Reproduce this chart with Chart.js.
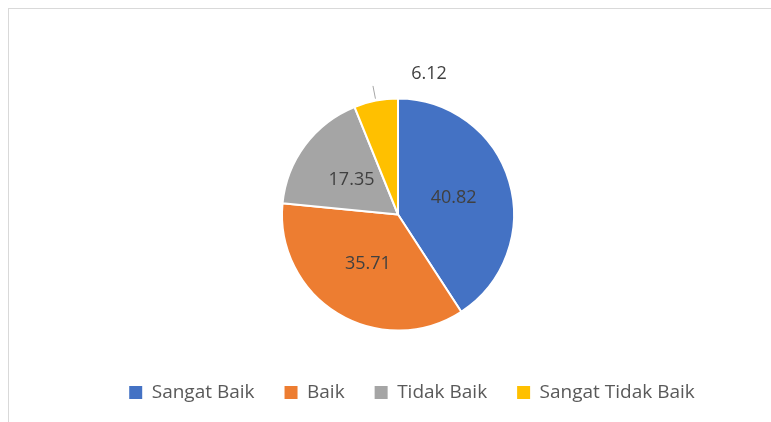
<!DOCTYPE html>
<html>
<head>
<meta charset="utf-8">
<script src="https://cdn.jsdelivr.net/npm/chart.js@4/dist/chart.umd.min.js"></script>
<style>
  html, body { margin: 0; padding: 0; background: #ffffff; }
  #wrap { position: relative; width: 771px; height: 422px; overflow: hidden; }
  #frame { position: absolute; left: 8px; top: 8px; width: 800px; height: 450px;
           border-top: 1px solid #d9d9d9; border-left: 1px solid #d9d9d9; }
  canvas { position: absolute; left: 0; top: 0; }
</style>
</head>
<body>
<div id="wrap">
  <div id="frame"></div>
  <canvas id="c" width="771" height="422"></canvas>
</div>
<script>
const categories = ["Sangat Baik", "Baik", "Tidak Baik", "Sangat Tidak Baik"];
const values = [40.82, 35.71, 17.35, 6.12];
const colors = ["#4472C4", "#ED7D31", "#A5A5A5", "#FFC000"];
const labelFont = "18px 'Open Sans'";

const labelPlugin = {
  id: 'sliceLabels',
  afterDatasetsDraw(chart) {
    const ctx = chart.ctx;
    const meta = chart.getDatasetMeta(0);
    ctx.save();
    ctx.font = labelFont;
    ctx.fillStyle = '#404040';
    ctx.textAlign = 'center';
    ctx.textBaseline = 'middle';
    meta.data.forEach((arc, i) => {
      const p = arc.getProps(['x', 'y', 'startAngle', 'endAngle', 'outerRadius'], true);
      const mid = (p.startAngle + p.endAngle) / 2;
      const txt = values[i].toFixed(2);
      if (values[i] < 10) {
        // outside label with leader line
        const x1 = p.x + Math.cos(mid) * (p.outerRadius + 2);
        const y1 = p.y + Math.sin(mid) * (p.outerRadius + 2);
        const x2 = p.x + Math.cos(mid) * (p.outerRadius + 15);
        const y2 = p.y + Math.sin(mid) * (p.outerRadius + 15);
        ctx.strokeStyle = '#a6a6a6';
        ctx.lineWidth = 1;
        ctx.beginPath();
        ctx.moveTo(x1, y1);
        ctx.lineTo(x2, y2);
        ctx.stroke();
        ctx.fillText(txt, x2 + 56, y2 - 12);
      } else {
        const r = p.outerRadius * 0.5;
        ctx.fillText(txt, p.x + Math.cos(mid) * r, p.y + Math.sin(mid) * r);
      }
    });
    ctx.restore();
  }
};

new Chart(document.getElementById('c'), {
  type: 'pie',
  data: {
    labels: categories,
    datasets: [{
      data: values,
      backgroundColor: colors,
      borderColor: '#ffffff',
      borderWidth: 2,
      radius: 116
    }]
  },
  options: {
    responsive: false,
    animation: false,
    layout: { padding: { top: 76, bottom: 10, left: 60, right: 7 } },
    plugins: {
      tooltip: { enabled: false },
      title: {
        // empty spacer on the right so the pie sits left of the legend's centre
        display: true,
        text: '',
        position: 'right',
        fullSize: false,
        font: { size: 10 },
        padding: 8
      },
      legend: {
        position: 'bottom',
        align: 'center',
        labels: {
          boxWidth: 13,
          boxHeight: 13,
          padding: 30,
          color: '#595959',
          font: { family: "'Open Sans'", size: 19 },
          generateLabels(chart) {
            const items = Chart.overrides.pie.plugins.legend.labels.generateLabels(chart);
            items.forEach(it => { it.lineWidth = 0; it.strokeStyle = 'rgba(0,0,0,0)'; });
            return items;
          }
        }
      }
    }
  },
  plugins: [labelPlugin]
});
</script>
</body>
</html>
